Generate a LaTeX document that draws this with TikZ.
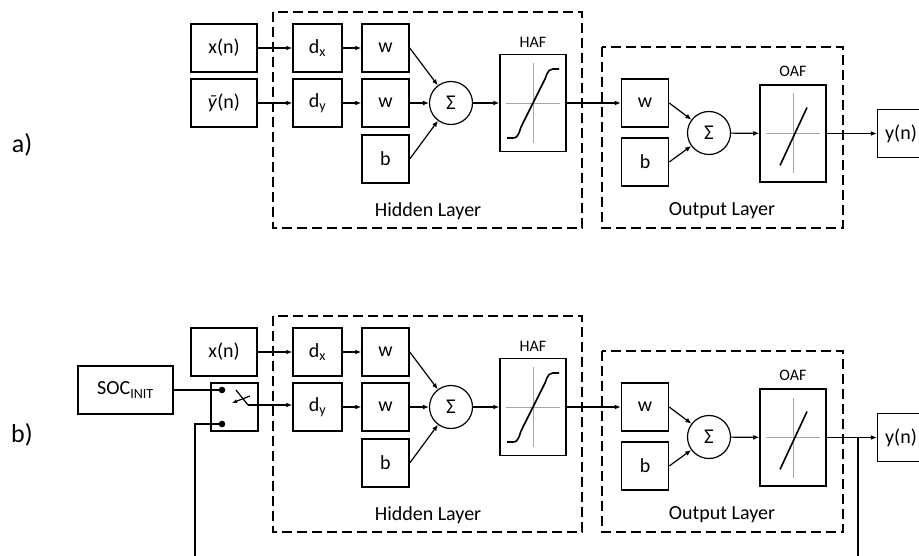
\documentclass[tikz,border=0pt]{standalone}
\usepackage{fontspec}
\setmainfont{Carlito}
\usetikzlibrary{arrows.meta,positioning,calc}

\begin{document}
\begin{tikzpicture}[x=1pt,y=-1pt,
  blk/.style={draw, line width=1.5pt, minimum width=47pt, minimum height=48pt, inner sep=0pt, font=\fontsize{20}{20}\selectfont},
  sumnd/.style={draw, circle, line width=1.2pt, minimum size=43pt, inner sep=0pt, font=\fontsize{21}{21}\selectfont},
  afbox/.style={draw, line width=1.5pt, minimum width=66pt, minimum height=97pt, inner sep=0pt},
  layer/.style={line width=1.5pt, dash pattern=on 10pt off 5pt},
  axis/.style={black!35, line width=0.8pt},
  curve/.style={line width=1.6pt},
  lbl/.style={font=\fontsize{16}{16}\selectfont},
  lyr/.style={font=\fontsize{20}{20}\selectfont},
  conn/.style={line width=1.2pt},
  >={Latex[length=6pt,width=5pt]}]
  \useasboundingbox (0,0) rectangle (919,556);
  \node[font=\fontsize{26}{26}\selectfont] (lab-a) at (22,145) {a)};
  \node[font=\fontsize{26}{26}\selectfont] (lab-b) at (22,435) {b)};
  \foreach \p/\dy in {a/0,b/304}{
    \begin{scope}[yshift=-\dy pt]
      \draw[layer] (273,12) rectangle (582,228);
      \draw[layer] (602,47) rectangle (843,228);
      \node[lyr] (hl-\p) at (428,211) {Hidden Layer};
      \node[lyr] (ol-\p) at (722,211) {Output Layer};
      \node[blk, minimum width=66pt] (xn-\p) at (224,48) {x(n)};
      \node[blk, minimum width=49pt] (dx-\p) at (317.5,48) {d\textsubscript{x}};
      \node[blk, minimum width=49pt] (dy-\p) at (317.5,103) {d\textsubscript{y}};
      \node[blk] (w1-\p) at (385.5,48) {w};
      \node[blk] (w2-\p) at (385.5,103) {w};
      \node[blk] (b1-\p) at (385.5,159) {b};
      \node[sumnd] (s1-\p) at (451,103) {Σ};
      \node[afbox] (haf-\p) at (533,103) {};
      \node[lbl] (hafl-\p) at (533,42) {HAF};
      \node[blk] (w3-\p) at (645,103) {w};
      \node[blk] (b3-\p) at (645,162) {b};
      \node[sumnd] (s2-\p) at (709,133) {Σ};
      \node[afbox] (oaf-\p) at (793,133.5) {};
      \node[lbl] (oafl-\p) at (793,71) {OAF};
      \node[blk] (yn-\p) at (901,133.5) {y(n)};
      \draw[axis] ($(haf-\p.center)+(0,-40)$) -- ($(haf-\p.center)+(0,40)$);
      \draw[axis] ($(haf-\p.center)+(-27,0)$) -- ($(haf-\p.center)+(27,0)$);
      \draw[curve] ($(haf-\p.center)+(-26,35)$) -- ++(6,0) to[out=0,in=235] ($(haf-\p.center)+(-10,20)$)
        -- ($(haf-\p.center)+(10,-20)$) to[out=55,in=180] ($(haf-\p.center)+(20,-34)$) -- ++(6,0);
      \draw[axis] ($(oaf-\p.center)+(0,-40)$) -- ($(oaf-\p.center)+(0,40)$);
      \draw[axis] ($(oaf-\p.center)+(-27,0)$) -- ($(oaf-\p.center)+(27,0)$);
      \draw[curve] ($(oaf-\p.center)+(-13,32)$) -- ($(oaf-\p.center)+(14,-26)$);
      \draw[conn,->] (xn-\p) -- (dx-\p);
      \draw[conn,->] (dx-\p) -- (w1-\p);
      \draw[conn,->] (dy-\p) -- (w2-\p);
      \draw[conn,->] (w1-\p.east) -- (s1-\p);
      \draw[conn,->] (w2-\p) -- (s1-\p);
      \draw[conn,->] (b1-\p.east) -- (s1-\p);
      \draw[conn,->] (s1-\p) -- (haf-\p);
      \draw[conn,->] (haf-\p) -- (w3-\p);
      \draw[conn,->] (w3-\p.east) -- (s2-\p);
      \draw[conn,->] (b3-\p.east) -- (s2-\p);
      \draw[conn,->] (s2-\p) -- (oaf-\p);
      \draw[conn,->] (oaf-\p) -- (yn-\p);
    \end{scope}
  }
  \node[blk, minimum width=66pt] (yb) at (224,103) {\textit{ȳ}(n)};
  \draw[conn,->] (yb) -- (dy-a);
  \node[blk, minimum width=95pt] (soc) at (125.5,390) {SOC\textsubscript{INIT}};
  \node[blk] (sw) at (234.5,407) {};
  \coordinate (swa) at ($(sw)+(-12.5,-17)$);
  \coordinate (swb) at ($(sw)+(-12.5,17)$);
  \coordinate (piv) at ($(sw)+(13.5,-2)$);
  \fill (swa) circle (3.3pt);
  \fill (swb) circle (3.3pt);
  \draw[conn] ($(sw)+(1.5,-17)$) -- (piv);
  \draw[conn,->,>={Latex[length=5pt,width=4pt]}] ($(sw)+(15.5,-11)$) -- ($(sw)+(-2.5,-4)$);
  \draw[conn,->] (piv) -- (piv -| dy-b.west);
  \draw[conn] (soc) -- (swa);
  \coordinate (fbl) at (195,560);
  \draw[conn] (swb) -| (fbl);
  \coordinate (tap) at (858,437.5);
  \coordinate (fbr) at (858,560);
  \draw[conn] (tap) -- (fbr);
\end{tikzpicture}
\end{document}
